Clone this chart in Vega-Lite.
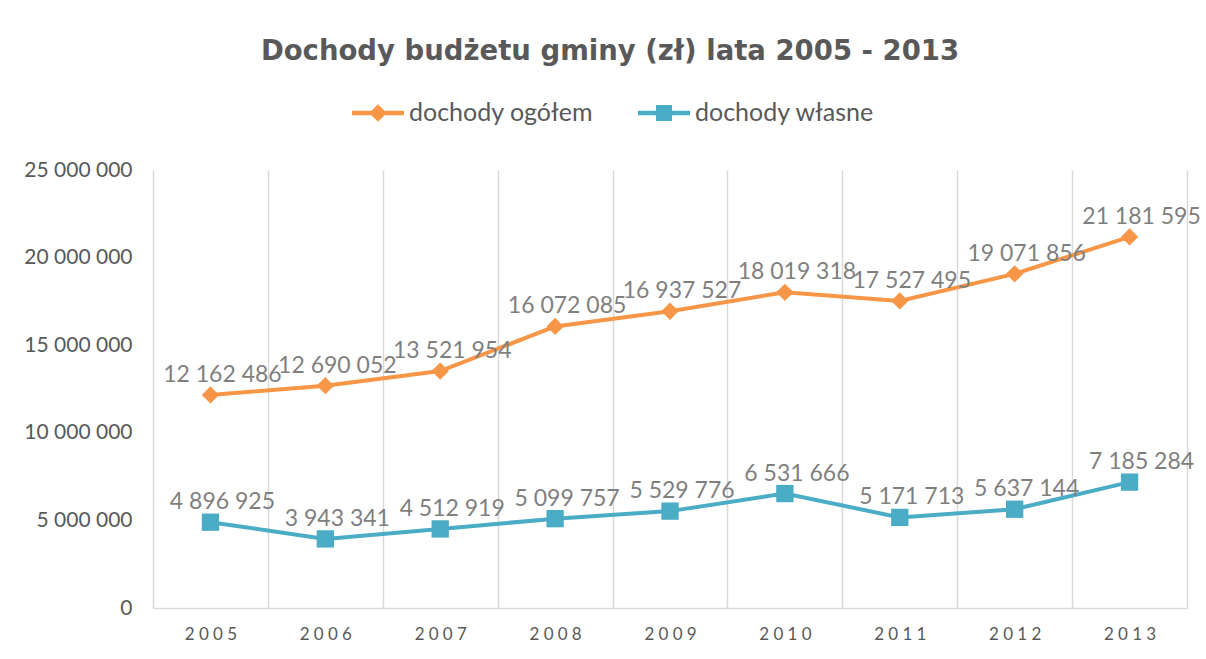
{
  "$schema": "https://vega.github.io/schema/vega-lite/v6.json",
  "width": 1034,
  "height": 438,
  "autosize": {"type": "none"},
  "padding": {"left": 153, "top": 170, "right": 19, "bottom": 51},
  "background": "white",
  "config": {
    "locale": {"number": {"decimal": ",", "thousands": " ", "grouping": [3], "currency": ["", " zł"]}},
    "view": {"stroke": null},
    "font": "Lato"
  },
  "title": {
    "text": "Dochody budżetu gminy (zł) lata 2005 - 2013",
    "font": "DejaVu Sans",
    "fontSize": 27.5,
    "fontWeight": "bold",
    "color": "#595959",
    "anchor": "middle",
    "dx": -60,
    "offset": 22
  },
  "data": {
    "values": [
      {"rok": "2005", "seria": "dochody ogółem", "wartosc": 12162486},
      {"rok": "2006", "seria": "dochody ogółem", "wartosc": 12690052},
      {"rok": "2007", "seria": "dochody ogółem", "wartosc": 13521954},
      {"rok": "2008", "seria": "dochody ogółem", "wartosc": 16072085},
      {"rok": "2009", "seria": "dochody ogółem", "wartosc": 16937527},
      {"rok": "2010", "seria": "dochody ogółem", "wartosc": 18019318},
      {"rok": "2011", "seria": "dochody ogółem", "wartosc": 17527495},
      {"rok": "2012", "seria": "dochody ogółem", "wartosc": 19071856},
      {"rok": "2013", "seria": "dochody ogółem", "wartosc": 21181595},
      {"rok": "2005", "seria": "dochody własne", "wartosc": 4896925},
      {"rok": "2006", "seria": "dochody własne", "wartosc": 3943341},
      {"rok": "2007", "seria": "dochody własne", "wartosc": 4512919},
      {"rok": "2008", "seria": "dochody własne", "wartosc": 5099757},
      {"rok": "2009", "seria": "dochody własne", "wartosc": 5529776},
      {"rok": "2010", "seria": "dochody własne", "wartosc": 6531666},
      {"rok": "2011", "seria": "dochody własne", "wartosc": 5171713},
      {"rok": "2012", "seria": "dochody własne", "wartosc": 5637144},
      {"rok": "2013", "seria": "dochody własne", "wartosc": 7185284}
    ]
  },
  "encoding": {
    "x": {
      "field": "rok",
      "type": "ordinal",
      "bandPosition": 0.5,
      "scale": {"type": "band", "paddingInner": 0, "paddingOuter": 0},
      "axis": {
        "title": null,
        "tickBand": "extent",
        "grid": true,
        "gridColor": "#d9d9d9",
        "gridWidth": 1.5,
        "ticks": false,
        "domainColor": "#d9d9d9",
        "domainWidth": 1.5,
        "labelFont": "Lato",
        "labelFontSize": 17,
        "labelColor": "#595959",
        "labelPadding": 18,
        "labelAngle": 0,
        "labelExpr": "join(split(datum.label, ''), '\u2005')"
      }
    },
    "y": {
      "field": "wartosc",
      "type": "quantitative",
      "scale": {"domain": [0, 25000000]},
      "axis": {
        "title": null,
        "values": [0, 5000000, 10000000, 15000000, 20000000, 25000000],
        "labelExpr": "format(datum.value, ',.0f')",
        "grid": false,
        "domain": false,
        "ticks": false,
        "labelFont": "Lato",
        "labelFontSize": 21,
        "labelColor": "#595959",
        "labelPadding": 21
      }
    },
    "color": {
      "field": "seria",
      "type": "nominal",
      "scale": {"domain": ["dochody ogółem", "dochody własne"], "range": ["#f79646", "#4bacc6"]},
      "legend": {
        "title": null,
        "orient": "none",
        "legendX": 199,
        "legendY": -83,
        "direction": "horizontal",
        "padding": 0,
        "labelFont": "Lato",
        "labelFontSize": 25,
        "labelColor": "#595959",
        "labelOffset": 5,
        "labelLimit": 400,
        "columnPadding": 44,
        "symbolSize": 2704,
        "symbolStrokeWidth": 0,
        "encode": {
          "symbols": {
            "update": {
              "shape": {"signal": "datum.label == 'dochody ogółem' ? 'M-1,-0.085H1V0.085H-1Z M0,-0.34L0.34,0L0,0.34L-0.34,0Z' : 'M-1,-0.085H1V0.085H-1Z M-0.31,-0.31H0.31V0.31H-0.31Z'"},
              "fill": {"signal": "datum.label == 'dochody ogółem' ? '#f79646' : '#4bacc6'"},
              "fillOpacity": {"value": 1},
              "opacity": {"value": 1},
              "strokeWidth": {"value": 0}
            }
          }
        }
      }
    }
  },
  "layer": [
    {"mark": {"type": "line", "strokeWidth": 4}},
    {
      "mark": {"type": "point", "filled": true, "opacity": 1},
      "encoding": {
        "shape": {
          "condition": {"test": "datum.seria == 'dochody ogółem'", "value": "diamond"},
          "value": "square"
        },
        "size": {"value": 300}
      }
    },
    {
      "mark": {"type": "text", "dy": -20, "dx": 12, "fontSize": 23, "font": "Lato"},
      "encoding": {
        "text": {"field": "wartosc", "type": "quantitative", "format": ","},
        "color": {"value": "#7f7f7f"}
      }
    }
  ]
}
